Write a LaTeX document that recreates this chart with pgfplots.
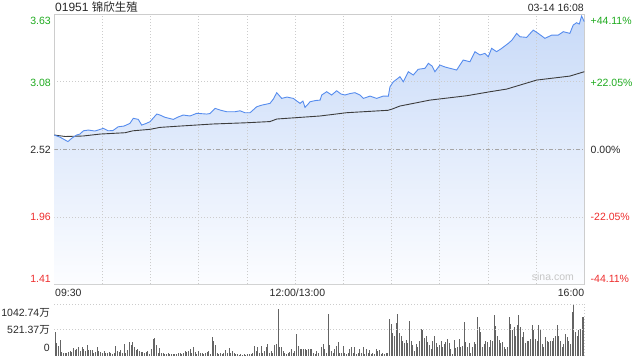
\documentclass[border=0pt]{standalone}
\usepackage{pgfplots}
\usepackage{pgfplotstable}
\pgfplotsset{compat=1.18}
\usepackage{fontspec}
\setmainfont{Liberation Sans}
\newfontfamily\cjk{Noto Sans CJK SC}
\definecolor{upgreen}{RGB}{30,170,30}
\definecolor{downred}{RGB}{238,45,45}
\definecolor{priceblue}{RGB}{86,140,238}
\definecolor{gridgray}{RGB}{204,204,204}
\definecolor{bordergray}{RGB}{205,205,205}
\definecolor{volgray}{RGB}{100,100,100}
\definecolor{fillTop}{RGB}{200,218,248}
\definecolor{fillBot}{RGB}{252,253,255}
\definecolor{txt}{RGB}{40,40,40}

\pgfplotstableread{
m p
0 2.638
3.5 2.621
6.7 2.597
8.5 2.584
10.8 2.611
13.9 2.638
16.0 2.646
18.1 2.673
21.2 2.679
25.3 2.671
30.5 2.693
33.6 2.673
36.5 2.675
39.8 2.706
43.4 2.712
47.1 2.734
49.2 2.776
52.3 2.767
54.4 2.720
57.1 2.733
59.6 2.748
63.8 2.811
65.8 2.803
68.9 2.784
74.1 2.767
77.0 2.786
80.3 2.803
84.5 2.795
88.7 2.817
94.9 2.811
96.9 2.815
100.1 2.858
103.2 2.844
107.3 2.830
112.5 2.830
115.6 2.838
118.7 2.822
121.9 2.822
126.0 2.871
129.3 2.885
132.2 2.893
134.3 2.899
136.4 2.935
138.5 2.987
141.6 2.940
144.9 2.951
148.8 2.940
153.0 2.899
154.8 2.918
156.1 2.866
158.0 2.893
159.2 2.912
162.4 2.922
165.5 2.926
166.5 2.968
169.6 2.995
172.7 2.968
175.8 3.003
178.5 2.976
181.0 2.968
184.1 2.980
187.2 2.987
190.3 2.968
192.4 2.940
196.6 2.959
200.7 2.940
204.8 2.959
208.0 2.959
209.0 3.036
211.1 3.077
213.4 3.100
215.2 3.119
217.3 3.077
220.4 3.160
223.5 3.133
226.6 3.180
230.8 3.188
232.9 3.229
235.2 3.207
237.0 3.160
240.1 3.215
243.2 3.199
246.4 3.188
250.5 3.174
254.6 3.256
258.8 3.242
261.9 3.325
265.0 3.298
268.1 3.311
270.2 3.283
272.3 3.353
275.4 3.325
278.6 3.353
282.7 3.394
285.0 3.421
287.9 3.476
290.0 3.448
294.1 3.443
298.2 3.503
301.3 3.476
305.5 3.435
309.7 3.462
313.8 3.462
316.9 3.490
321.0 3.476
323.1 3.545
325.2 3.564
326.9 3.553
328.3 3.619
330 3.572
}\bluetab

\pgfplotstableread{
m p
0 2.638
6.7 2.626
17.9 2.630
28.5 2.646
44.0 2.657
49.0 2.673
59.6 2.685
65.8 2.701
78.3 2.712
98.8 2.729
119.3 2.739
134.3 2.749
138.5 2.770
165.5 2.795
182.0 2.822
207.8 2.842
210.3 2.852
215.2 2.877
233.9 2.926
256.8 2.962
271.3 2.995
281.7 3.017
300.3 3.091
321.0 3.124
330 3.160
}\avgtab

\pgfplotstableread[row sep=\\]{v\\491\\259\\205\\321\\89\\68\\55\\68\\82\\102\\89\\157\\123\\136\\171\\102\\184\\136\\102\\218\\123\\116\\123\\68\\82\\171\\102\\89\\68\\102\\68\\55\\82\\68\\48\\68\\205\\102\\89\\123\\68\\239\\68\\123\\286\\225\\286\\184\\123\\136\\102\\89\\82\\68\\82\\102\\48\\136\\341\\361\\225\\68\\157\\68\\68\\48\\34\\55\\34\\48\\34\\48\\34\\55\\68\\34\\68\\102\\82\\102\\136\\68\\171\\89\\48\\102\\68\\68\\34\\68\\89\\102\\48\\389\\307\\218\\68\\48\\68\\34\\68\\123\\68\\157\\68\\102\\68\\34\\48\\20\\34\\27\\34\\20\\34\\48\\34\\68\\205\\102\\171\\68\\205\\68\\102\\184\\239\\68\\102\\68\\218\\239\\941\\171\\184\\102\\68\\48\\68\\89\\136\\68\\102\\443\\205\\150\\150\\136\\150\\116\\136\\136\\136\\68\\48\\102\\68\\}\volA

\pgfplotstableread[row sep=\\]{v\\171\\239\\136\\68\\852\\225\\102\\68\\136\\205\\273\\68\\68\\205\\68\\48\\68\\136\\171\\68\\171\\48\\68\\136\\68\\171\\48\\136\\68\\116\\34\\68\\48\\136\\102\\116\\34\\68\\48\\68\\68\\737\\648\\457\\409\\662\\852\\457\\409\\307\\252\\321\\252\\696\\307\\225\\102\\239\\184\\293\\546\\525\\361\\409\\273\\225\\136\\307\\409\\252\\171\\225\\307\\184\\239\\273\\341\\252\\136\\48\\321\\157\\171\\341\\171\\205\\682\\273\\171\\252\\68\\171\\273\\239\\784\\580\\477\\171\\239\\307\\273\\171\\321\\293\\818\\593\\409\\321\\252\\273\\171\\136\\171\\784\\634\\512\\580\\409\\614\\818\\580\\375\\477\\252\\307\\307\\341\\614\\512\\341\\307\\614\\546\\239\\171\\375\\307\\273\\307\\307\\361\\409\\614\\409\\307\\171\\239\\443\\375\\307\\239\\887\\1023\\477\\409\\512\\546\\784\\784\\}\volB

\begin{document}
\begin{tikzpicture}[x=1bp,y=1bp]
\useasboundingbox (0,0) rectangle (640,360);
\tikzset{gridline/.style={draw=gridgray, line width=0.8bp, dash pattern=on 1bp off 2bp},
         lab/.style={inner sep=0pt, font=\fontsize{10.5bp}{12bp}\selectfont}}
\begin{axis}[
  at={(54.3bp,76bp)}, anchor=south west, scale only axis,
  width=530bp, height=269.3bp,
  xmin=0, xmax=330, ymin=1.41, ymax=3.63,
  xtick=\empty, ytick=\empty,
  axis line style={draw=bordergray, line width=0.8bp},
]
\addplot[draw=none, top color=fillTop, bottom color=fillBot] table[x=m,y=p]{\bluetab} -- (axis cs:330,1.41) -- (axis cs:0,1.41) -- cycle;
\pgfplotsinvokeforeach{30,60,90,120,150,180,210,240,270,300}{
  \draw[gridline] (axis cs:#1,1.41) -- (axis cs:#1,3.63);
}
\draw[gridline] (axis cs:0,3.08) -- (axis cs:330,3.08);
\draw[gridline] (axis cs:0,1.96) -- (axis cs:330,1.96);
\draw[draw=gray!70, line width=0.8bp, dash pattern=on 4bp off 2bp on 1bp off 2bp] (axis cs:0,2.52) -- (axis cs:330,2.52);
\addplot[draw=txt!90, line width=0.9bp] table[x=m,y=p]{\avgtab};
\addplot[draw=priceblue, line width=0.9bp] table[x=m,y=p]{\bluetab};
\end{axis}

\begin{axis}[
  at={(54.3bp,4bp)}, anchor=south west, scale only axis,
  width=530bp, height=52bp,
  xmin=0, xmax=330, ymin=0, ymax=1042.74,
  axis lines=none,
]
\addplot[ycomb, draw=volgray, line width=1bp] table[x expr=\coordindex*1.052+0.44, y=v]{\volA};
\addplot[ycomb, draw=volgray, line width=1bp] table[x expr=\coordindex*1.033+166.4, y=v]{\volB};
\end{axis}

\draw[gridline] (54.3,56) -- (584.3,56);
\draw[gridline] (54.3,30.7) -- (584.3,30.7);
\draw[gridline] (584.3,56) -- (584.3,4);

% title
\node[anchor=base west, inner sep=0pt, text=txt] at (55,348.3) {\fontsize{12bp}{14bp}\selectfont 01951 {\cjk\fontsize{11.5bp}{14bp}\selectfont 锦欣生殖}};
\node[lab, anchor=base east, text=txt] at (584,348.3) {03-14 16:08};

% left price labels
\node[lab, anchor=base east, text=upgreen] at (51,336) {3.63};
\node[lab, anchor=base east, text=upgreen] at (51,274) {3.08};
\node[lab, anchor=base east, text=txt] at (51,206.7) {2.52};
\node[lab, anchor=base east, text=downred] at (51,139.3) {1.96};
\node[lab, anchor=base east, text=downred] at (51,78) {1.41};

% right percent labels
\node[lab, anchor=base west, text=upgreen] at (590.5,336) {+44.11\%};
\node[lab, anchor=base west, text=upgreen] at (590.5,274) {+22.05\%};
\node[lab, anchor=base west, text=txt] at (590.5,206.7) {0.00\%};
\node[lab, anchor=base west, text=downred] at (590.5,139.3) {-22.05\%};
\node[lab, anchor=base west, text=downred] at (590.5,78) {-44.11\%};

% time labels
\node[lab, anchor=base west, text=txt] at (55,63.3) {09:30};
\node[lab, anchor=base west, text=txt] at (269.5,63.3) {12:00/13:00};
\node[lab, anchor=base east, text=txt] at (584.3,63.3) {16:00};

% watermark
\node[lab, anchor=base west, text=gray!45] at (531.7,79.5) {sina.com};

% volume labels
\node[lab, anchor=base east, text=txt] at (50,43.5) {1042.74{\cjk 万}};
\node[lab, anchor=base east, text=txt] at (50,26.3) {521.37{\cjk 万}};
\node[lab, anchor=base east, text=txt] at (50,8.3) {0};
\end{tikzpicture}
\end{document}
